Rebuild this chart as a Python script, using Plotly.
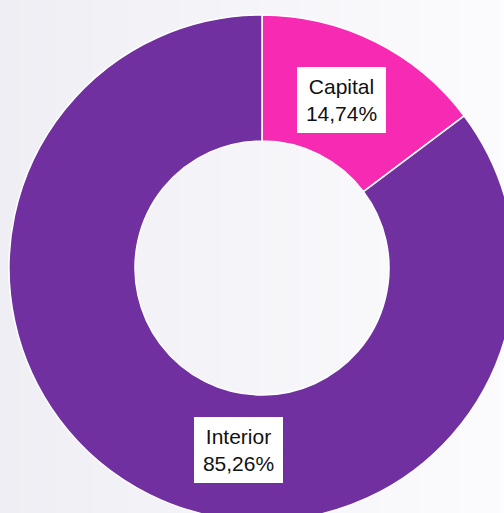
import plotly.graph_objects as go

# ---- data ----
labels = ["Capital", "Interior"]
values = [14.74, 85.26]
pct_text = ["14,74%", "85,26%"]
colors = ["#F72BB3", "#7030A0"]

# ---- layout constants ----
W, H = 520, 525
cx, cy, R = 262, 268, 253  # donut centre / radius in px
hole = 127 / 253
label_px = {"Capital": (341.5, 99.5), "Interior": (238.5, 450)}

fig = go.Figure()

# background gradient (horizontal) via heatmap on hidden axes
fig.add_trace(go.Heatmap(
    z=[[0, 1]], x=[0, 1], y=[0, 1],
    colorscale=[[0, "#EFEEF4"], [1, "#FCFCFE"]],
    zsmooth="best", showscale=False, hoverinfo="skip",
))

fig.add_trace(go.Pie(
    labels=labels, values=values, hole=hole, sort=False,
    direction="clockwise", rotation=0,
    marker=dict(colors=colors, line=dict(color="white", width=1.5)),
    textinfo="none", hoverinfo="label+percent", showlegend=False,
    domain=dict(x=[(cx - R) / W, (cx + R) / W],
                y=[1 - (cy + R) / H, 1 - (cy - R) / H]),
))

annotations = []
for lab, txt in zip(labels, pct_text):
    px, py = label_px[lab]
    annotations.append(dict(
        x=px / W, y=1 - py / H, xref="paper", yref="paper",
        xanchor="center", yanchor="middle",
        text=f"{lab}<br>{txt}", showarrow=False,
        font=dict(family="Liberation Sans, Arial, sans-serif", size=21, color="#111111"),
        bgcolor="white", width=85, height=62, borderpad=2, borderwidth=0,
        align="center", valign="middle",
    ))

fig.update_layout(
    width=W, height=H, autosize=False,
    margin=dict(l=0, r=0, t=0, b=0, pad=0),
    paper_bgcolor="#F6F5FA", plot_bgcolor="rgba(0,0,0,0)",
    xaxis=dict(visible=False, range=[0, 1], domain=[0, 1], fixedrange=True),
    yaxis=dict(visible=False, range=[0, 1], domain=[0, 1], fixedrange=True),
    annotations=annotations,
)

fig.write_html(
    "out.html",
    config={"displayModeBar": False},
    post_script="document.body.style.margin='0';document.body.style.overflow='hidden';",
)
